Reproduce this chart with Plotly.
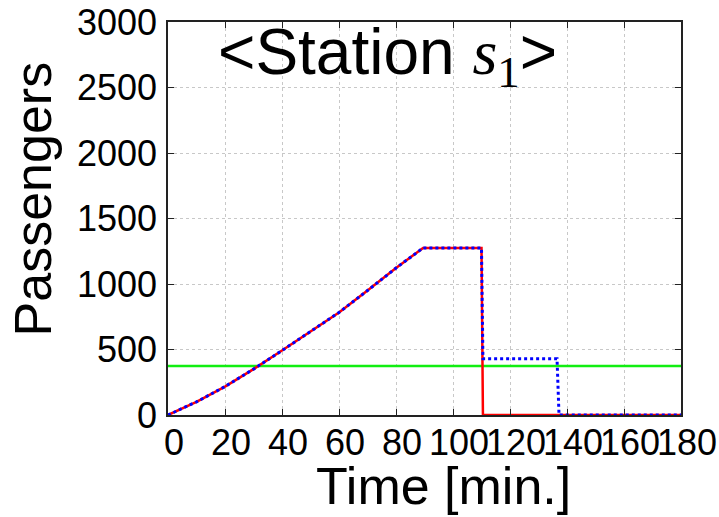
import plotly.graph_objects as go

# Data
t_curve = [0, 10, 20, 30, 40, 50, 60, 70, 80, 89.5, 110]
v_curve = [0, 100, 217, 350, 492, 635, 783, 950, 1122, 1275, 1275]

t_red = t_curve + [110.5, 180]
v_red = v_curve + [0, 0]

t_blue = t_curve + [110.5, 136.5, 137.2, 180]
v_blue = v_curve + [430, 430, 0, 0]

t_green = [0, 180]
v_green = [375, 375]

x_ticks = [0, 20, 40, 60, 80, 100, 120, 140, 160, 180]
y_ticks = [0, 500, 1000, 1500, 2000, 2500, 3000]

FONT = "Liberation Sans, Arial, sans-serif"
SERIF = "'Liberation Serif', serif"

fig = go.Figure()
fig.add_trace(go.Scatter(x=t_green, y=v_green, mode="lines",
                         line=dict(color="#11ee11", width=2.5), showlegend=False))
fig.add_trace(go.Scatter(x=t_red, y=v_red, mode="lines",
                         line=dict(color="#ff0000", width=2.5), showlegend=False))
fig.add_trace(go.Scatter(x=t_blue, y=v_blue, mode="lines",
                         line=dict(color="#0000ff", width=3, dash="dot"), showlegend=False))

axis_common = dict(
    showline=True, linecolor="#222222", linewidth=1.5, mirror="ticks",
    ticks="inside", ticklen=6, tickcolor="#222222", tickwidth=1,
    showgrid=True, gridcolor="#c8c8c8", gridwidth=1, griddash="dot",
    zeroline=False, tickfont=dict(family=FONT, size=36, color="black"),
    tickangle=0, automargin=False,
)

fig.update_xaxes(range=[0, 180], tickvals=x_ticks, ticktext=[str(v) for v in x_ticks],
                 ticklabelstandoff=-5, ticklabelshift=6, **axis_common)
fig.update_yaxes(range=[0, 3000], tickvals=y_ticks, ticktext=[str(v) for v in y_ticks],
                 ticklabelstandoff=2, **axis_common)

fig.add_annotation(
    text=("&lt;Station <span style=\"font-family:" + SERIF + "\"><i>s</i>"
          "<sub>1</sub></span>&gt;"),
    xref="paper", yref="paper", x=0.427, y=0.912, xanchor="center", yanchor="middle",
    showarrow=False, font=dict(family=FONT, size=64, color="black"))

fig.add_annotation(text="Time [min.]", xref="paper", yref="paper",
                   x=0.5375, y=-0.18, xanchor="center", yanchor="middle",
                   showarrow=False, font=dict(family=FONT, size=52, color="black"))
fig.add_annotation(text="Passengers", xref="paper", yref="paper", textangle=-90,
                   x=-0.264, y=0.55, xanchor="center", yanchor="middle",
                   showarrow=False, font=dict(family=FONT, size=52, color="black"))

fig.update_layout(
    width=719, height=517,
    margin=dict(l=168, r=38, t=22, b=102),
    plot_bgcolor="white", paper_bgcolor="white",
)

fig.write_html("out.html")
